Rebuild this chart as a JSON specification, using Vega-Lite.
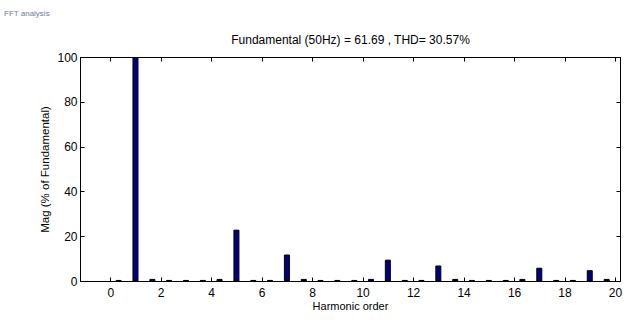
{
  "$schema": "https://vega.github.io/schema/vega-lite/v6.json",
  "width": 540,
  "height": 224,
  "autosize": "none",
  "padding": {"left": 80, "top": 57, "right": 7, "bottom": 41},
  "background": "white",
  "title": {
    "text": "FFT analysis",
    "anchor": "start",
    "frame": "group",
    "dx": -76,
    "offset": 16,
    "fontSize": 8,
    "fontWeight": "normal",
    "font": "Liberation Sans",
    "color": "#6b7aa6"
  },
  "config": {
    "view": {"stroke": "black", "strokeWidth": 1},
    "font": "Liberation Sans",
    "axis": {
      "grid": false,
      "domainColor": "black",
      "tickColor": "black",
      "tickSize": -4,
      "labelFont": "Liberation Sans",
      "labelFontSize": 12,
      "labelColor": "black",
      "titleFont": "Liberation Sans",
      "titleFontWeight": "normal",
      "titleColor": "black"
    }
  },
  "data": {
    "values": [
      {"harmonic": 0.33, "mag": 0.25},
      {"harmonic": 1, "mag": 100},
      {"harmonic": 1.67, "mag": 0.7},
      {"harmonic": 2.33, "mag": 0.25},
      {"harmonic": 3, "mag": 0.25},
      {"harmonic": 3.67, "mag": 0.25},
      {"harmonic": 4.33, "mag": 0.7},
      {"harmonic": 5, "mag": 22.7},
      {"harmonic": 5.67, "mag": 0.25},
      {"harmonic": 6.33, "mag": 0.25},
      {"harmonic": 7, "mag": 11.6},
      {"harmonic": 7.67, "mag": 0.7},
      {"harmonic": 8.33, "mag": 0.25},
      {"harmonic": 9, "mag": 0.25},
      {"harmonic": 9.67, "mag": 0.25},
      {"harmonic": 10.33, "mag": 0.7},
      {"harmonic": 11, "mag": 9.3},
      {"harmonic": 11.67, "mag": 0.25},
      {"harmonic": 12.33, "mag": 0.25},
      {"harmonic": 13, "mag": 6.7},
      {"harmonic": 13.67, "mag": 0.7},
      {"harmonic": 14.33, "mag": 0.25},
      {"harmonic": 15, "mag": 0.25},
      {"harmonic": 15.67, "mag": 0.25},
      {"harmonic": 16.33, "mag": 0.7},
      {"harmonic": 17, "mag": 5.7},
      {"harmonic": 17.67, "mag": 0.25},
      {"harmonic": 18.33, "mag": 0.25},
      {"harmonic": 19, "mag": 4.6},
      {"harmonic": 19.67, "mag": 0.7}
    ]
  },
  "layer": [
    {
      "mark": {"type": "bar", "size": 5, "fill": "#00007f", "stroke": "black", "strokeWidth": 1, "clip": true},
      "encoding": {
        "x": {
          "field": "harmonic",
          "type": "quantitative",
          "scale": {"domain": [-1, 20], "nice": false, "zero": false},
          "axis": {
            "orient": "bottom",
            "values": [0, 2, 4, 6, 8, 10, 12, 14, 16, 18, 20],
            "labelPadding": 10,
            "labelFlush": false,
            "title": "Harmonic order",
            "titleFontSize": 11,
            "titlePadding": 2
          }
        },
        "y": {
          "field": "mag",
          "type": "quantitative",
          "scale": {"domain": [0, 100], "nice": false},
          "axis": {
            "orient": "left",
            "values": [0, 20, 40, 60, 80, 100],
            "labelPadding": 7,
            "labelFlush": false,
            "title": "Mag (% of Fundamental)",
            "titleFontSize": 11.5,
            "titlePadding": 6
          }
        }
      }
    },
    {
      "mark": {"type": "bar", "size": 5, "opacity": 0},
      "encoding": {
        "x": {
          "field": "harmonic",
          "type": "quantitative",
          "scale": {"domain": [-1, 20], "nice": false, "zero": false},
          "axis": {
            "orient": "top",
            "values": [0, 2, 4, 6, 8, 10, 12, 14, 16, 18, 20],
            "labels": false,
            "title": "Fundamental (50Hz) = 61.69 , THD= 30.57%",
            "titleFontSize": 12,
            "titlePadding": 10
          }
        },
        "y": {
          "field": "mag",
          "type": "quantitative",
          "scale": {"domain": [0, 100], "nice": false},
          "axis": {
            "orient": "right",
            "values": [0, 20, 40, 60, 80, 100],
            "labels": false,
            "title": null
          }
        }
      }
    }
  ],
  "resolve": {"axis": {"x": "independent", "y": "independent"}}
}
